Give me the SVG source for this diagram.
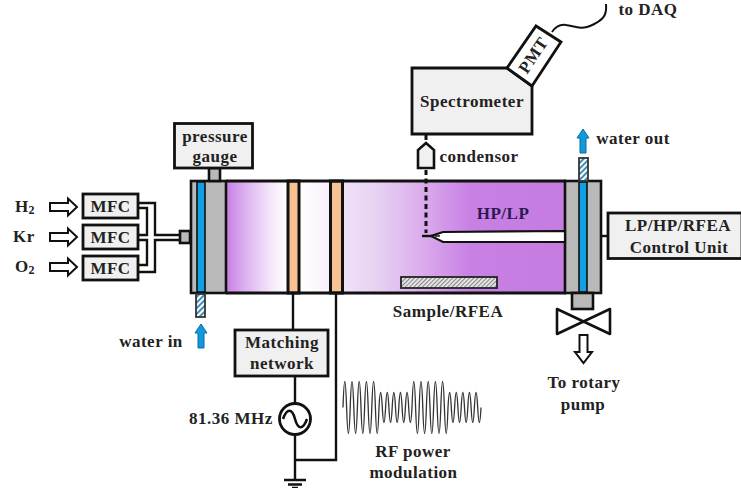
<svg xmlns="http://www.w3.org/2000/svg" width="741" height="488" viewBox="0 0 741 488">
<style>
text{font-family:"Liberation Serif",serif;font-weight:bold;font-size:17px;letter-spacing:.5px;fill:#222;text-anchor:middle}
.b{fill:#f0f0f0;stroke:#111;stroke-width:2.8}
.g{fill:#b9b9b9;stroke:#111;stroke-width:2.6}
.l{fill:none;stroke:#111;stroke-width:2.4}
.ar{fill:#fff;stroke:#111;stroke-width:2}
.w{fill:#1199dd;stroke:#0b6c9e;stroke-width:1}
.e{fill:#f7c193;stroke:#111;stroke-width:3}
</style>
<defs>
<linearGradient id="p" x1="226" x2="566" y1="0" y2="0" gradientUnits="userSpaceOnUse">
<stop offset="0" stop-color="#c77ee6"/><stop offset=".056" stop-color="#dcb0ef"/><stop offset=".13" stop-color="#f4e6fa"/><stop offset=".18" stop-color="#fff"/><stop offset=".218" stop-color="#fff"/><stop offset=".303" stop-color="#f8effb"/><stop offset=".344" stop-color="#f0e2f7"/><stop offset=".453" stop-color="#e6cff2"/><stop offset=".57" stop-color="#dcaeec"/><stop offset=".718" stop-color="#c880e4"/><stop offset="1" stop-color="#c57ce0"/>
</linearGradient>
<pattern id="h" width="4" height="4" patternUnits="userSpaceOnUse" patternTransform="rotate(45)"><rect width="4" height="4" fill="#fff"/><rect width="2" height="4" fill="#3f8db5"/></pattern>
<pattern id="s" width="3" height="3" patternUnits="userSpaceOnUse" patternTransform="rotate(45)"><rect width="3" height="3" fill="#eee"/><rect width="1.2" height="3" fill="#888"/></pattern>
<path id="ra" d="M0-4H18V-8.500L27 0 18 8.500V4H0Z"/>
<path id="ua" d="M-3 12V-3H-6L0-12 6-3H3V12Z"/>
</defs>
<g id="chamber">
<rect x="226" y="181" width="340" height="112" fill="url(#p)"/>
<rect class="e" x="288" y="181" width="11" height="112"/>
<rect class="e" x="330.500" y="181" width="12" height="112"/>
<path fill="none" stroke="#111" stroke-width="2.800" d="M226 181H566M226 293H566"/>
</g>
<g id="left-flange">
<rect class="g" x="191" y="181" width="35" height="112"/>
<rect x="197" y="182" width="8" height="110" fill="#0fa0e6" stroke="#111" stroke-width="1.600"/>
<rect x="196" y="294" width="9" height="23" fill="url(#h)" stroke="#333" stroke-width="1.800"/>
<rect class="g" x="209" y="168" width="11" height="13"/>
<rect class="g" x="180" y="231" width="10" height="12"/>
</g>
<g id="right-flange">
<rect class="g" x="565" y="181" width="36" height="112"/>
<rect x="579" y="182" width="8" height="110" fill="#0fa0e6" stroke="#111" stroke-width="1.600"/>
<rect x="579" y="158" width="9" height="23" fill="url(#h)" stroke="#333" stroke-width="1.800"/>
<rect class="g" x="572" y="293" width="21" height="16"/>
</g>
<g id="connectors">
<path class="l" d="M138 203H155V235H180M180 240H155V272H138M138 208H147V235H138M138 240H147V265H138"/>
<path class="l" d="M293 293V330M336 293V460H295M295 376V404M295 434V480"/>
<path class="l" d="M284 480H306M288 484.500H302M292 488H298"/>
<path class="l" d="M601 236H608"/>
<path stroke="#111" stroke-width="3" stroke-dasharray="5 3.500" fill="none" d="M426 135V142M426 170V233"/>
<path fill="none" stroke="#111" stroke-width="2" d="M552 32C556 26 560 24 566 25 574 26 581 30 590 26 604 20 607 15 606 4"/>
</g>
<g id="h2-mfc"><text x="25" y="212">H<tspan font-size="12" dy="2">2</tspan></text><use href="#ra" transform="translate(50 207)" class="ar"/><rect class="b" x="83" y="194" width="55" height="24"/><text x="110.500" y="212">MFC</text></g>
<g id="kr-mfc"><text x="24" y="242">Kr</text><use href="#ra" transform="translate(50 237)" class="ar"/><rect class="b" x="83" y="225" width="55" height="24"/><text x="110.500" y="243">MFC</text></g>
<g id="o2-mfc"><text x="25" y="272">O<tspan font-size="12" dy="2">2</tspan></text><use href="#ra" transform="translate(50 267)" class="ar"/><rect class="b" x="83" y="256" width="55" height="24"/><text x="110.500" y="274">MFC</text></g>
<g id="pressure-gauge"><rect class="b" x="174.500" y="123.500" width="78" height="44.500"/><text x="215" y="142">pressure</text><text x="215" y="162">gauge</text></g>
<g id="water-in"><text x="151" y="347">water in</text><use href="#ua" transform="translate(201 336)" class="w"/></g>
<g id="spectrometer"><path class="b" d="M412 68H507L532 86V134H412Z"/><text x="472" y="107">Spectrometer</text></g>
<g id="pmt"><path fill="#fff" stroke="#111" stroke-width="2.800" d="M507 68L536 26 561 42 532 86Z"/><text transform="translate(533 55) rotate(-56)" y="6">PMT</text></g>
<g id="to-daq"><text x="648" y="15">to DAQ</text></g>
<g id="condensor"><path fill="#f0f0f0" stroke="#111" stroke-width="2.600" d="M418 168V150L426 143 434 150V168Z"/><text x="479" y="162">condensor</text></g>
<g id="water-out"><use href="#ua" transform="translate(583 141)" class="w"/><text x="633" y="144">water out</text></g>
<g id="probe"><path fill="#fff" stroke="#111" stroke-width="2.200" d="M565 231L443 232 431 236 443 242 565 242Z"/><path class="l" d="M422 236H432"/><path fill="none" stroke="#111" stroke-width="1.500" d="M435 236H440"/><text x="503" y="219" style="fill:#2b1a50">HP/LP</text></g>
<g id="control-unit"><rect class="b" x="608" y="213" width="134" height="45.500"/><text x="678" y="231">LP/HP/RFEA</text><text x="679" y="253">Control Unit</text></g>
<g id="sample"><rect x="401" y="277" width="96" height="11" fill="url(#s)" stroke="#222" stroke-width="1.800"/><text x="448" y="317">Sample/RFEA</text></g>
<g id="valve"><path fill="#fff" stroke="#111" stroke-width="2.600" stroke-linejoin="round" d="M557 309L610 334V309L557 334Z"/><path class="ar" d="M579.500 335H587.500V352H592L583.500 363 575 352H579.500Z"/><text x="584" y="388">To rotary</text><text x="583" y="410">pump</text></g>
<g id="matching"><rect class="b" x="235" y="330" width="93" height="46"/><text x="282" y="348">Matching</text><text x="282" y="369">network</text></g>
<g id="source"><text x="231" y="424">81.36 MHz</text><circle cx="295" cy="419" r="15.500" fill="#fff" stroke="#111" stroke-width="2.800"/><path fill="none" stroke="#111" stroke-width="2.600" d="M283 419C287 408 292 408 295 419S303 430 307 419"/></g>
<g id="modulation"><path fill="none" stroke="#333" stroke-width="1.300" d="M343 407.500q1.800-52 3.600 0 1.800 52 3.600 0q1.800-52 3.600 0 1.800 52 3.600 0q1.800-52 3.600 0 1.800 52 3.600 0q1.800-52 3.600 0 1.800 52 3.600 0q1.800-52 3.600 0 1.800 52 3.600 0q1.650-30 3.300 0 1.650 30 3.300 0q1.650-30 3.300 0 1.650 30 3.300 0q1.650-30 3.300 0 1.650 30 3.300 0q1.650-30 3.300 0 1.650 30 3.300 0q1.650-30 3.300 0 1.650 30 3.300 0q1.800-52 3.600 0 1.800 52 3.600 0q1.800-52 3.600 0 1.800 52 3.600 0q1.800-52 3.600 0 1.800 52 3.600 0q1.800-52 3.600 0 1.800 52 3.600 0q1.800-52 3.600 0 1.800 52 3.600 0q1.650-30 3.300 0 1.650 30 3.300 0q1.650-30 3.300 0 1.650 30 3.300 0q1.650-30 3.300 0 1.650 30 3.300 0q1.650-30 3.300 0 1.650 30 3.300 0q1.650-30 3.300 0 1.650 30 3.300 0"/><text x="413" y="457">RF power</text><text x="413.500" y="478">modulation</text></g>
</svg>
